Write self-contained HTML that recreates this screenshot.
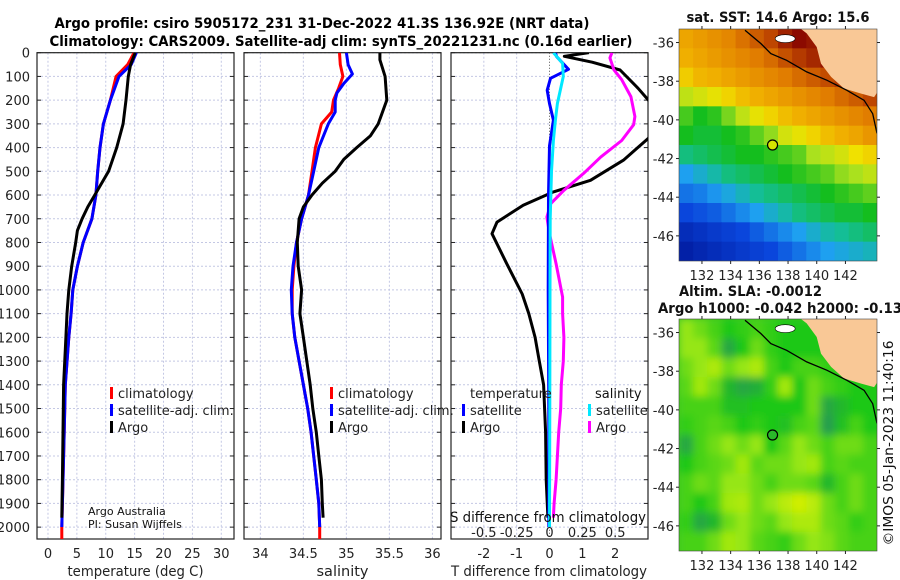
<!DOCTYPE html>
<html><head><meta charset="utf-8"><style>
html,body{margin:0;padding:0;background:#fff;}
svg{display:block;font-family:"DejaVu Sans","Liberation Sans",sans-serif;}
</style></head><body>
<svg id="c" width="900" height="580" viewBox="0 0 900 580" xmlns="http://www.w3.org/2000/svg">
<defs>
<clipPath id="cp0"><rect x="37" y="52.7" width="197" height="486.3"/></clipPath>
<clipPath id="cp1"><rect x="244" y="52.7" width="197" height="486.3"/></clipPath>
<clipPath id="cp2"><rect x="451" y="52.7" width="197" height="486.3"/></clipPath>
<clipPath id="cpm1"><rect x="679" y="29" width="198" height="232"/></clipPath>
<clipPath id="cpm2"><rect x="679" y="319" width="198" height="232"/></clipPath>
<filter id="blur" x="-5%" y="-5%" width="110%" height="110%"><feGaussianBlur stdDeviation="4"/></filter>
</defs>
<rect width="900" height="580" fill="#fff"/>
<text x="322" y="28" font-size="14" font-weight="bold" text-anchor="middle" textLength="535" lengthAdjust="spacingAndGlyphs">Argo profile: csiro 5905172_231 31-Dec-2022 41.3S 136.92E (NRT data)</text>
<text x="341" y="46" font-size="14" font-weight="bold" text-anchor="middle" textLength="583" lengthAdjust="spacingAndGlyphs">Climatology: CARS2009. Satellite-adj clim: synTS_20221231.nc (0.16d earlier)</text>
<g id="g"></g>
</svg>
<script>
// ---- profile data ----
const tempClimDepth=[0,50,100,200,300,400,500,600,700,800,900,1000,1100,1200,1400,1600,1800,2000,2050];
const tempClim=[14.9,13.8,11.8,10.8,9.6,9.0,8.6,8.3,7.6,6.1,5.1,4.3,4.0,3.6,3.0,2.8,2.6,2.4,2.4];
const tempSatDepth=[0,50,100,200,300,400,500,600,700,800,900,1000,1100,1200,1400,1600,1800,2000];
const tempSat=[15.3,14.4,12.3,10.8,9.6,9.0,8.6,8.3,7.6,6.1,5.1,4.3,4.0,3.6,3.0,2.8,2.6,2.4];
const tempArgoDepth=[0,50,100,200,300,400,500,600,650,700,750,800,900,1000,1100,1200,1400,1600,1800,1960];
const tempArgo=[15.1,14.3,13.9,13.5,13.0,11.9,10.5,8.1,6.9,5.9,5.1,4.8,4.1,3.6,3.3,3.1,2.7,2.6,2.5,2.4];

const salClimDepth=[0,50,100,150,200,250,300,400,500,600,650,700,800,900,1000,1100,1200,1300,1400,1500,1600,1700,1800,1900,2000,2050];
const salClim=[34.92,34.93,34.96,34.91,34.85,34.83,34.71,34.64,34.60,34.56,34.52,34.48,34.42,34.39,34.37,34.37,34.40,34.45,34.50,34.55,34.59,34.62,34.65,34.68,34.69,34.69];
const salSatDepth=[0,50,90,130,170,200,250,300,400,500,600,650,700,800,900,1000,1100,1200,1300,1400,1500,1600,1700,1800,1900,2000];
const salSat=[35.0,35.02,35.07,34.97,34.89,34.87,34.87,34.79,34.68,34.62,34.56,34.52,34.48,34.42,34.38,34.36,34.37,34.40,34.45,34.50,34.55,34.59,34.62,34.65,34.68,34.69];
const salArgoDepth=[0,30,100,200,300,350,400,450,500,550,600,650,700,800,900,1000,1100,1200,1300,1400,1500,1600,1700,1800,1900,1960];
const salArgo=[35.39,35.39,35.45,35.47,35.37,35.28,35.12,34.97,34.87,34.72,34.60,34.50,34.45,34.43,34.44,34.48,34.46,34.50,34.54,34.58,34.61,34.65,34.68,34.71,34.72,34.73];

const dTArgoDepth=[0,15,40,73,150,214,300,362,453,538,587,643,714,763,890,1017,1100,1200,1300,1400,1500,1600,1800,1960];
const dTArgo=[1.2,0.45,1.3,2.15,2.7,3.1,3.5,3.0,2.25,1.25,0.12,-0.8,-1.6,-1.75,-1.3,-0.83,-0.63,-0.44,-0.31,-0.18,-0.15,-0.12,-0.1,-0.05];
const dTSatDepth=[0,17,70,108,158,214,284,393,600,1000,1500,2000];
const dTSat=[0.18,0.22,0.58,0.03,-0.07,0.0,0.12,0.0,-0.03,-0.04,-0.02,-0.02];
const dSSatDepth=[0,45,100,214,284,370,500,700,1000,1500,2000];
const dSSat=[0.03,0.1,0.105,0.06,0.045,0.03,0.015,0.005,0.004,0.002,0.0];
const dSArgoDepth=[0,22,72,114,185,269,304,370,440,509,580,636,693,763,890,1030,1100,1200,1300,1400,1500,1600,1800,1900,1960];
const dSArgo=[0.475,0.46,0.49,0.55,0.62,0.65,0.64,0.55,0.39,0.26,0.11,0.01,-0.02,0.0,0.05,0.1,0.1,0.11,0.105,0.09,0.085,0.07,0.05,0.035,0.03];

const depthTicks=[0,100,200,300,400,500,600,700,800,900,1000,1100,1200,1300,1400,1500,1600,1700,1800,1900,2000];
const tempTicks=[0,5,10,15,20,25,30];
const salTicks=[34,34.5,35,35.5,36];
const dTTicks=[-2,-1,0,1,2];
const dSTicks=[-0.5,-0.25,0,0.25,0.5];
const dSTickLabels=["-0.5","-0.25","0","0.25","0.5"];

// ---- map data ----
const latTicks=[-36,-38,-40,-42,-44,-46];
const lonTicks=[132,134,136,138,140,142];
const sstGrid=[
[17.2,17.4,17.6,17.8,18.2,18.6,19.0,19.6,20.0,19.8,null,null,null,null],
[17.0,17.2,17.4,17.6,17.8,18.0,18.3,18.8,19.2,19.5,19.8,null,null,null],
[16.6,16.9,17.0,17.2,17.4,17.6,17.8,18.0,18.3,18.6,18.9,19.2,null,null],
[15.8,16.0,16.2,16.5,16.8,17.0,17.2,17.4,17.6,17.8,18.0,18.3,18.6,19.0],
[15.2,15.0,15.1,15.4,15.8,16.2,16.5,16.8,17.0,17.2,17.4,17.6,17.8,18.0],
[15.0,14.9,14.9,15.0,15.1,15.3,15.5,16.0,16.2,16.5,16.8,17.0,17.2,17.5],
[14.6,14.7,14.8,14.9,15.0,15.0,15.1,15.2,15.3,15.6,15.8,16.0,16.3,16.5],
[14.0,14.2,14.4,14.6,14.7,14.8,14.9,15.0,15.1,15.2,15.3,15.5,15.6,15.8],
[13.6,13.7,13.9,14.1,14.3,14.5,14.6,14.7,14.8,14.9,15.0,15.1,15.2,15.3],
[13.2,13.3,13.4,13.6,13.8,14.0,14.2,14.4,14.6,14.7,14.8,14.9,14.9,15.0],
[12.8,12.9,13.0,13.1,13.2,13.4,13.6,13.8,14.0,14.2,14.4,14.5,14.6,14.7],
[12.6,12.7,12.8,12.9,13.0,13.1,13.2,13.4,13.6,13.8,14.0,14.1,14.2,14.3]];
const slaGrid=[
[.7,.6,.5,.4,.45,.5,.45,.4,.4,.4,null,null,null,null],
[.7,.7,.55,.2,.4,.6,.45,.4,.4,.4,.4,null,null,null],
[.6,.7,.8,.6,.7,.8,.5,.4,.5,.5,.45,.4,null,null],
[.55,.75,.6,.3,.2,.25,.45,.75,.4,.6,.5,.45,.4,.4],
[.5,.5,.5,.35,.35,.4,.4,.4,.4,.6,.2,.3,.4,.4],
[.45,.5,.55,.5,.4,.45,.4,.35,.5,.55,.15,.35,.5,.4],
[.2,.5,.6,.7,.6,.7,.4,.55,.7,.6,.5,.6,.6,.5],
[.4,.5,.55,.6,.75,.55,.6,.6,.7,.75,.5,.55,.5,.5],
[.5,.6,.55,.7,.7,.6,.5,.6,.6,.55,.3,.5,.6,.5],
[.5,.4,.5,.75,.8,.6,.7,.85,.95,.85,.6,.5,.6,.5],
[.45,.2,.3,.6,.7,.6,.55,.7,.8,.8,.6,.55,.45,.5],
[.5,.5,.6,.75,.7,.55,.5,.45,.6,.7,.65,.55,.5,.5]];
const coastLon=[135.0,136.1,136.8,137.9,139.3,140.7,142.1,143.3,143.9,144.2];
const coastLat=[-35.36,-36.05,-36.57,-36.92,-37.52,-37.95,-38.47,-38.99,-39.68,-40.7];
const landLon=[138.9,139.3,140.0,140.3,141.0,141.9,143.1,144.0,144.2,144.2];
const landLat=[-35.3,-35.53,-36.23,-37.09,-37.78,-38.38,-38.64,-38.82,-38.6,-35.3];
const argoLon=136.92, argoLat=-41.3;

// ---- helpers ----
const NS="http://www.w3.org/2000/svg";
const G=document.getElementById('g');
function el(tag,attrs,parent){const e=document.createElementNS(NS,tag);for(const k in attrs)e.setAttribute(k,attrs[k]);(parent||G).appendChild(e);return e;}
const Y0=52.7,Y1=539,DMAX=2050;
function yD(d){return Y0+d*(Y1-Y0)/DMAX;}
const panels=[{x0:37,x1:234,min:-1.9,max:32.2},{x0:244,x1:441,min:33.81,max:36.1},{x0:451,x1:648,min:-3.0,max:3.0}];
function xP(i,v){const p=panels[i];return p.x0+(v-p.min)/(p.max-p.min)*(p.x1-p.x0);}

// panels: grid, frame, ticks
const tickSets=[tempTicks,salTicks,dTTicks];
for(let i=0;i<3;i++){
  const p=panels[i];
  for(const d of depthTicks){
    const l=el('line',{x1:p.x0,x2:p.x1,y1:yD(d),y2:yD(d),stroke:'#c4c8e4','stroke-width':1,'stroke-dasharray':'2,2'});
    
    
    el('line',{x1:p.x0,x2:p.x0+4,y1:yD(d),y2:yD(d),stroke:'#222'});
    el('line',{x1:p.x1-4,x2:p.x1,y1:yD(d),y2:yD(d),stroke:'#222'});
  }
  for(const t of tickSets[i]){
    const x=xP(i,t);
    const l=el('line',{x1:x,x2:x,y1:Y0,y2:Y1,stroke:(i==2&&t==0)?'#555':'#c4c8e4','stroke-width':1,'stroke-dasharray':(i==2&&t==0)?'1,2':'2,2'});
    
    
    const tl=el('text',{x:x,y:558,'font-size':13,'text-anchor':'middle',fill:'#222'});
    tl.textContent=(i==0)?t:(i==1?t:t);
    
    
  }
  const fr=el('rect',{x:p.x0,y:Y0,width:p.x1-p.x0,height:Y1-Y0,fill:'none',stroke:'#222','stroke-width':1.2});
  
  
}
for(const d of depthTicks){
  const t=el('text',{x:30,y:yD(d)+5,'font-size':13,'text-anchor':'end',fill:'#222'});
  t.textContent=d;
  
  
}
const xTitles=[['temperature (deg C)',135.5,136],['salinity',342.5,52],['T difference from climatology',549,196]];
for(const [s,x,w] of xTitles){
  const t=el('text',{x:x,y:576,'font-size':14,'text-anchor':'middle',fill:'#222',textLength:w,lengthAdjust:'spacingAndGlyphs'});
  t.textContent=s;
  
  
}

function series(i,xs,ds,color,name,scale){
  let pts=ds.map((d,k)=>xP(i,xs[k]*(scale||1)).toFixed(1)+','+yD(d).toFixed(1)).join(' ');
  const pl=el('polyline',{points:pts,fill:'none',stroke:color,'stroke-width':3,'stroke-linejoin':'round','clip-path':'url(#cp'+i+')'});
  
  
}
series(0,tempClim,tempClimDepth,'#ff0000','temp-climatology-line');
series(0,tempSat,tempSatDepth,'#0000ff','temp-satellite-line');
series(0,tempArgo,tempArgoDepth,'#000','temp-argo-line');
series(1,salClim,salClimDepth,'#ff0000','sal-climatology-line');
series(1,salSat,salSatDepth,'#0000ff','sal-satellite-line');
series(1,salArgo,salArgoDepth,'#000','sal-argo-line');
series(2,dTArgo,dTArgoDepth,'#000','tdiff-argo-line');
series(2,dSArgo,dSArgoDepth,'#ff00ff','sdiff-argo-line',4);
series(2,dTSat,dTSatDepth,'#0000ff','tdiff-satellite-line');
series(2,dSSat,dSSatDepth,'#00e8ff','sdiff-satellite-line',4);

// S diff axis labels
for(let k=0;k<dSTicks.length;k++){
  const t=el('text',{x:xP(2,dSTicks[k]*4),y:537,'font-size':13,'text-anchor':'middle',fill:'#222'});
  t.textContent=dSTickLabels[k];
  
  
}

// legends
function legItem(x,y,color,label,name){
  const r=el('rect',{x:x,y:y-11,width:3,height:12,fill:color});
  
  
  const t=el('text',{x:x+8,y:y,'font-size':13,fill:'#222'});
  t.textContent=label;
  
  
}
legItem(110,398,'#ff0000','climatology','legend-temp-climatology');
legItem(110,415,'#0000ff','satellite-adj. clim.','legend-temp-satellite');
legItem(110,432,'#000','Argo','legend-temp-argo');
legItem(330,398,'#ff0000','climatology','legend-sal-climatology');
legItem(330,415,'#0000ff','satellite-adj. clim.','legend-sal-satellite');
legItem(330,432,'#000','Argo','legend-sal-argo');
legItem(462,415,'#0000ff','satellite','legend-tdiff-satellite');
legItem(462,432,'#000','Argo','legend-tdiff-argo');
legItem(588,415,'#00e8ff','satellite','legend-sdiff-satellite');
legItem(588,432,'#ff00ff','Argo','legend-sdiff-argo');
</script>
<script>
// ---- maps ----
const M={x0:679,x1:877,lonMin:130.4,lonMax:144.2,latMax:-35.3,latMin:-47.3};
function mx(lon){return M.x0+(lon-M.lonMin)/(M.lonMax-M.lonMin)*(M.x1-M.x0);}
function my(lat,top){return top+(M.latMax-lat)/(M.latMax-M.latMin)*232;}
const sstStops=[[12.4,[0,20,150]],[13.2,[10,70,220]],[14.0,[30,160,240]],[14.5,[20,190,150]],[15.0,[20,190,30]],[15.6,[170,225,30]],[16.3,[240,225,0]],[17.0,[240,175,0]],[18.0,[225,125,0]],[19.0,[190,70,0]],[20.0,[140,10,0]]];
const slaStops=[[0.1,[40,150,90]],[0.4,[30,200,20]],[0.7,[150,230,20]],[1.0,[220,240,0]]];
function cmap(v,stops){
  if(v<=stops[0][0])return 'rgb('+stops[0][1]+')';
  for(let k=1;k<stops.length;k++){if(v<=stops[k][0]){const a=stops[k-1],b=stops[k],f=(v-a[0])/(b[0]-a[0]);return 'rgb('+a[1].map((c,j)=>Math.round(c+(b[1][j]-c)*f)).join(',')+')';}}
  return 'rgb('+stops[stops.length-1][1]+')';
}
function drawMap(top,grid,stops,clipId,blurred,name){
  const grp=el('g',{'clip-path':'url(#'+clipId+')'});
  
  
  el('rect',{x:M.x0,y:top,width:198,height:232,fill:blurred?'#40c828':'#f0b000'},grp);
  const inner=el('g',blurred?{filter:'url(#blur)'}:{},grp);
  const nr=grid.length,nc=grid[0].length;
  const dLon=(M.lonMax-M.lonMin)/nc,dLat=(M.latMax-M.latMin)/nr;
  for(let r=0;r<nr;r++)for(let c=0;c<nc;c++){
    let v=grid[r][c];
    if(v===null){ // nearest sea neighbour for colour under land
      let cc=c;while(cc>0&&grid[r][cc]===null)cc--;v=grid[r][cc];
    }
    const x=mx(M.lonMin+c*dLon),y=my(M.latMax-r*dLat,top);
    const cell=el('rect',{x:x-(blurred?8:0),y:y-(blurred?8:0),width:198/nc+0.6+(blurred?16:0)*((c==0||c==nc-1)?1:0),height:232/nr+0.6+(blurred?16:0)*((r==0||r==nr-1)?1:0),fill:cmap(v,stops)},inner);
    if(blurred){cell.setAttribute('x',x);cell.setAttribute('y',y);}
    
    
  }
  const landPts=landLon.map((l,k)=>mx(l).toFixed(1)+','+my(landLat[k],top).toFixed(1)).join(' ');
  const land=el('polygon',{points:landPts,fill:'#f9c896'},grp);
  
  
  const isl=el('ellipse',{cx:mx(137.8),cy:my(-35.8,top),rx:10,ry:4,fill:'#fff',stroke:'#000','stroke-width':0.6},grp);
  
  
  const cPts=coastLon.map((l,k)=>mx(l).toFixed(1)+','+my(coastLat[k],top).toFixed(1)).join(' ');
  const coast=el('polyline',{points:cPts,fill:'none',stroke:'#000','stroke-width':1.3},grp);
  
  
  const dot=el('circle',{cx:mx(argoLon),cy:my(argoLat,top),r:5,fill:blurred?'#2ab82a':'#d4e400',stroke:'#000','stroke-width':1.2});
  
  
  const fr=el('rect',{x:M.x0,y:top,width:198,height:232,fill:'none',stroke:'#444','stroke-width':0.6});
  
  
  for(const lt of latTicks){
    const y=my(lt,top);
    el('line',{x1:M.x0-3,x2:M.x0,y1:y,y2:y,stroke:'#222'});
    el('line',{x1:M.x1,x2:M.x1+3,y1:y,y2:y,stroke:'#222'});
    const t=el('text',{x:674,y:y+5,'font-size':13,'text-anchor':'end',fill:'#222'});
    t.textContent=lt;
    
    
  }
  for(const ln of lonTicks){
    const x=mx(ln);
    el('line',{x1:x,x2:x,y1:top-3,y2:top,stroke:'#222'});
    el('line',{x1:x,x2:x,y1:top+232,y2:top+235,stroke:'#222'});
    const t=el('text',{x:x,y:top+251,'font-size':13,'text-anchor':'middle',fill:'#222'});
    t.textContent=ln;
    
    
  }
}
drawMap(29,sstGrid,sstStops,'cpm1',false,'sst-map');
drawMap(319,slaGrid,slaStops,'cpm2',true,'sla-map');
</script>
<svg width="0" height="0" style="position:absolute"></svg>
<script>
const S=document.getElementById('c');
function tx(s,x,y,fs,extra,name){const t=document.createElementNS("http://www.w3.org/2000/svg",'text');t.setAttribute('x',x);t.setAttribute('y',y);t.setAttribute('font-size',fs);t.setAttribute('fill','#111');for(const k in extra)t.setAttribute(k,extra[k]);t.textContent=s;S.appendChild(t);return t;}
let t;
t=tx('temperature',470,398,13,{fill:'#222'});


t=tx('salinity',595,398,13,{});


t=tx('S difference from climatology',548,522,14,{'text-anchor':'middle',textLength:196,lengthAdjust:'spacingAndGlyphs'});


t=tx('Argo Australia',88,515,11,{});


t=tx('PI: Susan Wijffels',88,528,11,{});


t=tx('sat. SST: 14.6 Argo: 15.6',778,22,14,{'font-weight':'bold','text-anchor':'middle',textLength:183,lengthAdjust:'spacingAndGlyphs'});


t=tx('Altim. SLA: -0.0012',679,296,14,{'font-weight':'bold',textLength:143,lengthAdjust:'spacingAndGlyphs'});


t=tx('Argo h1000: -0.042 h2000: -0.13',658,313,14,{'font-weight':'bold',textLength:244,lengthAdjust:'spacingAndGlyphs'});


t=tx('©IMOS 05-Jan-2023 11:40:16',893,443,13,{'text-anchor':'middle',transform:'rotate(-90 893 443)',textLength:205,lengthAdjust:'spacingAndGlyphs'});


</script>
</body></html>
